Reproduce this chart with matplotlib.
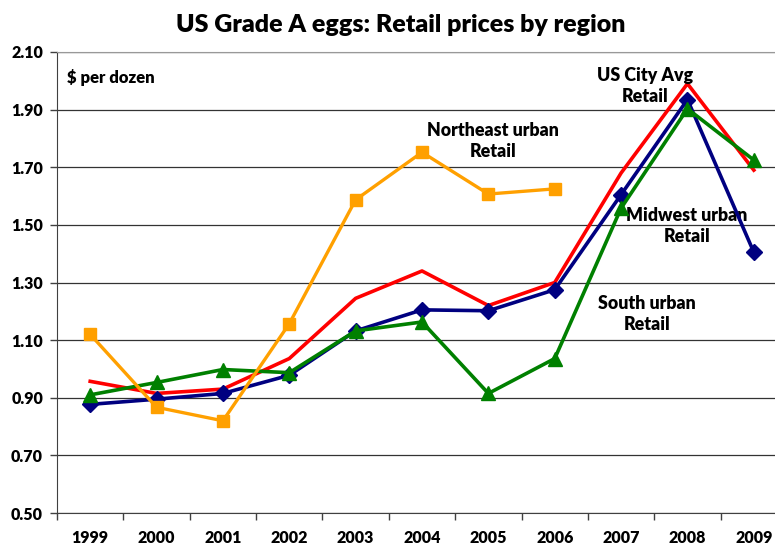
import matplotlib
matplotlib.use("Agg")
import matplotlib.pyplot as plt

years = ["1999", "2000", "2001", "2002", "2003", "2004", "2005", "2006", "2007", "2008", "2009"]
us_city_avg = [0.957, 0.915, 0.93, 1.036, 1.245, 1.34, 1.22, 1.30, 1.68, 1.99, 1.69]
northeast = [1.12, 0.867, 0.82, 1.157, 1.587, 1.752, 1.607, 1.625]
midwest = [0.877, 0.895, 0.915, 0.978, 1.132, 1.205, 1.202, 1.275, 1.605, 1.935, 1.405]
south = [0.91, 0.953, 0.998, 0.987, 1.132, 1.163, 0.915, 1.036, 1.558, 1.903, 1.725]
yticks = [0.50, 0.70, 0.90, 1.10, 1.30, 1.50, 1.70, 1.90, 2.10]

FONT = "Lato"
W, H = 775, 545
fig = plt.figure(figsize=(W / 100, H / 100), dpi=100)
ax = fig.add_axes([57 / W, 1 - 513 / H, 730 / W, 461 / H])

x = list(range(len(years)))
ax.plot(x, us_city_avg, color="#ff0000", lw=2.6, zorder=3)
ax.plot(x, midwest, color="#000080", lw=2.6, marker="D", ms=8.5, zorder=4)
ax.plot(x, south, color="#008000", lw=2.6, marker="^", ms=10, zorder=5)
ax.plot(x[:len(northeast)], northeast, color="#ffa000", lw=2.4, marker="s", ms=9, zorder=6)

ax.set_xlim(-0.5, len(years) - 0.5)
ax.set_ylim(0.5, 2.1)
ax.set_yticks(yticks)
ax.set_yticklabels([f"{v:.2f}" for v in yticks])
ax.set_xticks(x)
ax.set_xticklabels(years)
ax.set_xticks([i - 0.5 for i in range(len(years) + 1)], minor=True)
ax.tick_params(axis="x", which="major", length=0, pad=12)
ax.tick_params(axis="x", which="minor", length=5, width=1, color="#404040", direction="out")
ax.tick_params(axis="y", length=5, width=1, color="#404040", direction="out", pad=5)
for lab in ax.get_xticklabels() + ax.get_yticklabels():
    lab.set_fontfamily(FONT)
    lab.set_fontweight("heavy")
    lab.set_fontsize(11.5)

ax.grid(axis="y", color="#333333", lw=0.9)
ax.set_axisbelow(True)
ax.spines["right"].set_visible(False)
ax.spines["top"].set_color("#999999")
ax.spines["left"].set_color("#404040")
ax.spines["bottom"].set_color("#404040")

fig.text(401 / W, 1 - 25 / H, "US Grade A eggs: Retail prices by region", ha="center", va="center",
         fontfamily=FONT, fontweight="heavy", fontsize=18)

def xd(px):
    return (px - 90) / 66.4

def yd(py):
    return 0.5 + (513 - py) / 288.1

kw = dict(fontfamily=FONT, fontweight="heavy", fontsize=12.8, ha="center", va="center", linespacing=1.3)
ax.text(xd(67), yd(78), "$ per dozen", fontfamily=FONT, fontweight="heavy", fontsize=12, ha="left", va="center")
ax.text(xd(493), yd(141), "Northeast urban\nRetail", **kw)
ax.text(xd(645), yd(86), "US City Avg\nRetail", **kw)
ax.text(xd(687), yd(226), "Midwest urban\nRetail", **kw)
ax.text(xd(647), yd(314), "South urban\nRetail", **kw)

fig.savefig("out.png", dpi=100)
